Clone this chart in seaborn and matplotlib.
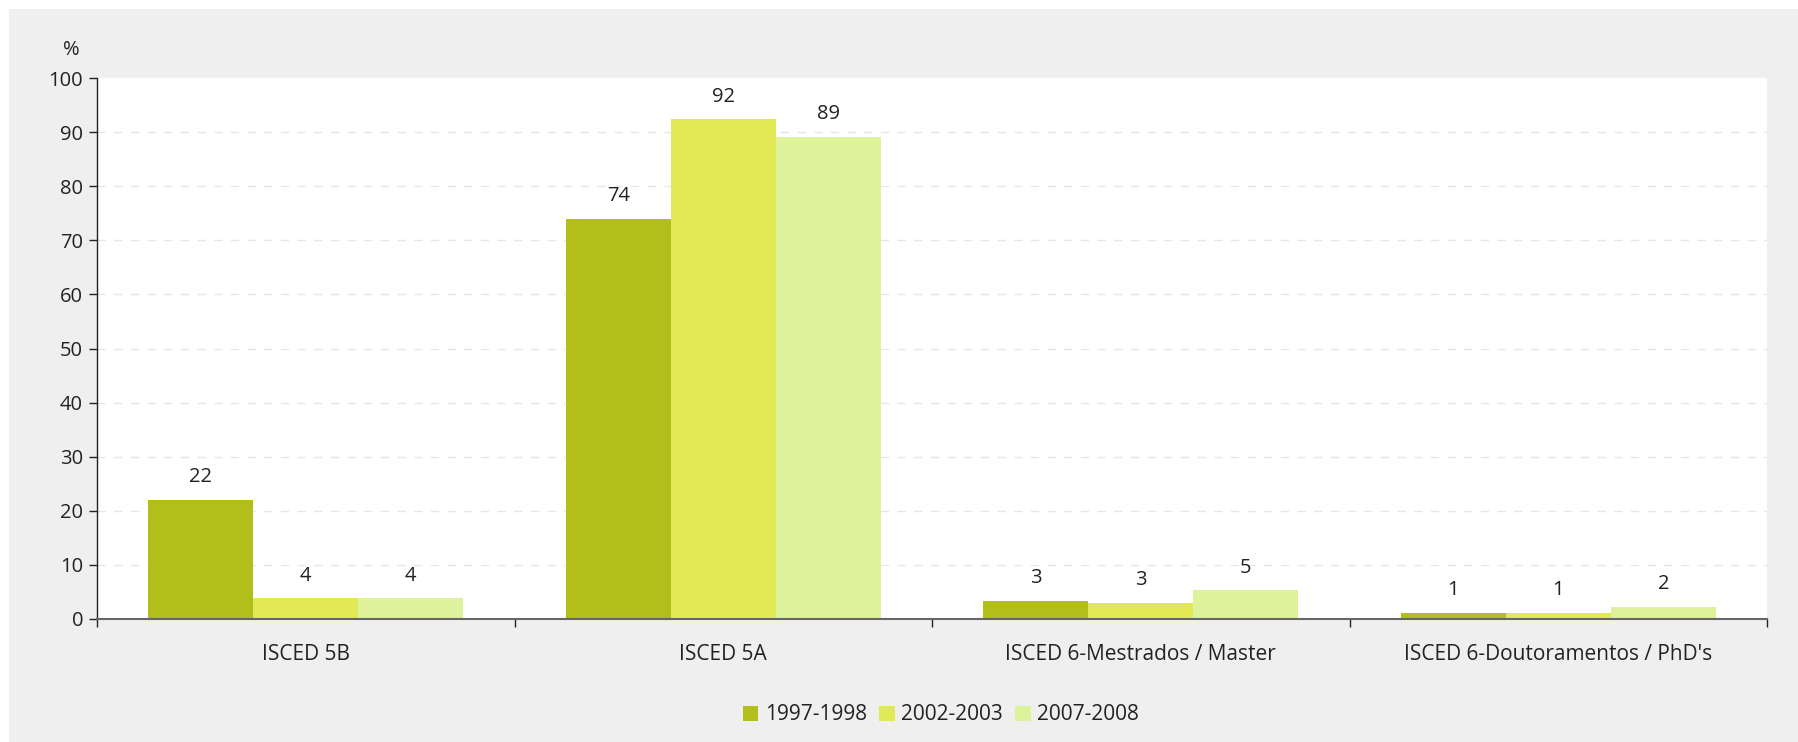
import matplotlib
matplotlib.use("Agg")
import matplotlib.pyplot as plt
import seaborn as sns
import pandas as pd
from matplotlib.patches import Rectangle

# data
categories = ["ISCED 5B", "ISCED 5A", "ISCED 6-Mestrados / Master", "ISCED 6-Doutoramentos / PhD's"]
periods = ["1997-1998", "2002-2003", "2007-2008"]
v_1997 = [22.0, 74.0, 3.4, 1.2]
v_2002 = [3.8, 92.4, 3.0, 1.2]
v_2007 = [3.8, 89.1, 5.3, 2.3]
colors = ["#b2bf1a", "#e1ea55", "#ddf29b"]

rows = []
for period, vals in zip(periods, [v_1997, v_2002, v_2007]):
    for cat, v in zip(categories, vals):
        rows.append({"cat": cat, "period": period, "value": v})
df = pd.DataFrame(rows)

sns.set_style("white")
plt.rcParams['font.family'] = ['Open Sans', 'DejaVu Sans']
txt = "#222222"

fig = plt.figure(figsize=(17.98, 7.42), dpi=100, facecolor="white")
fig.add_artist(Rectangle((9 / 1798, 0), 1, 1 - 9 / 742, transform=fig.transFigure,
                         facecolor="#efefef", edgecolor="none", zorder=0))
ax = fig.add_axes([97 / 1798, 1 - 619 / 742, 1670 / 1798, 541 / 742])
ax.set_facecolor("white")

sns.barplot(data=df, x="cat", y="value", hue="period", order=categories,
            hue_order=periods, palette=colors, width=0.755, gap=0,
            saturation=1, edgecolor="none", linewidth=0, ax=ax, legend=True)

for cont in ax.containers:
    for bar in cont:
        h = bar.get_height()
        ax.annotate(f"{h:.0f}", (bar.get_x() + bar.get_width() / 2, h),
                    xytext=(0, 9), textcoords="offset points",
                    ha="center", va="bottom", fontsize=14.5, color=txt)

ax.set_ylim(0, 100)
ax.set_xlim(-0.5, 3.5)
ax.set_yticks(range(0, 101, 10))
# dashed grid lines, none at the top
for y in range(10, 100, 10):
    ax.axhline(y, linestyle=(0, (6, 6)), color="#e6e6e6", linewidth=1, zorder=0)
ax.tick_params(axis="y", left=True, length=6, width=1, color="#222222",
               labelsize=14.5, labelcolor=txt, pad=4)
ax.set_xticks([-0.5, 0.5, 1.5, 2.5, 3.5], minor=False)
ax.set_xticklabels([])
ax.set_xticks(range(4), minor=True)
ax.set_xticklabels(categories, minor=True, fontsize=15, color=txt)
ax.tick_params(axis="x", which="major", bottom=True, length=6, width=1, color="#222222")
ax.tick_params(axis="x", which="minor", bottom=False, pad=16)
ax.set_xlabel("")
ax.set_ylabel("")
for s in ["top", "right"]:
    ax.spines[s].set_visible(False)
ax.spines["left"].set_color("#222222")
ax.spines["left"].set_linewidth(1)
ax.spines["bottom"].set_color("#666666")
ax.spines["bottom"].set_linewidth(1.5)

fig.text(71 / 1798, 1 - 50 / 742, "%", ha="center", va="center", fontsize=14.5, color=txt)

handles, labels = ax.get_legend_handles_labels()
ax.get_legend().remove()
fig.legend(handles, labels, loc="center", bbox_to_anchor=(941 / 1798, 1 - 715 / 742),
           ncol=3, frameon=False, fontsize=15, handlelength=0.75, handleheight=0.75,
           handletextpad=0.3, columnspacing=0.6, labelcolor=txt)

fig.savefig("out.png", dpi=100, facecolor="white")
